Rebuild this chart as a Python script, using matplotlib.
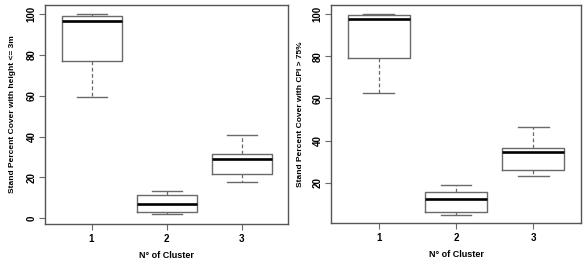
import matplotlib
matplotlib.use("Agg")
import matplotlib.pyplot as plt

# ------------------------------------------------------------
# Data
# ------------------------------------------------------------
clusters = [1, 2, 3]

# panel A: cover with height <= 3m
a_low = [59.2, 1.9, 17.8]
a_q1 = [77.0, 3.1, 21.7]
a_med = [96.6, 7.1, 29.0]
a_q3 = [99.2, 11.2, 31.5]
a_high = [100.0, 13.4, 40.6]

# panel B: cover with CPI > 75%
b_low = [62.4, 4.8, 23.3]
b_q1 = [79.1, 6.1, 26.0]
b_med = [97.5, 12.6, 34.8]
b_q3 = [99.5, 15.7, 36.7]
b_high = [100.0, 19.05, 46.6]

a_yticks = [0, 20, 40, 60, 80, 100]
b_yticks = [20, 40, 60, 80, 100]

plt.rcParams.update({
    "font.family": "Liberation Sans",
    "font.weight": "bold",
    "axes.linewidth": 1.0,
    "axes.edgecolor": "#555555",
})

edge = "#6a6a6a"


def box_panel(ax, low, q1, med, q3, high, yticks, ylim, ylabel, ypad):
    stats = []
    for lo, a, m, b, hi in zip(low, q1, med, q3, high):
        stats.append(dict(whislo=lo, q1=a, med=m, q3=b, whishi=hi, fliers=[]))
    ax.bxp(stats, positions=clusters, widths=0.8, showfliers=False,
           boxprops=dict(color=edge, linewidth=1.0),
           whiskerprops=dict(color=edge, linewidth=0.9, linestyle=(0, (3, 2))),
           capprops=dict(color=edge, linewidth=1.0),
           medianprops=dict(color="black", linewidth=1.9),
           capwidths=0.4)
    ax.set_xlim(0.38, 3.62)
    ax.set_ylim(*ylim)
    ax.set_xticks(clusters)
    ax.set_xticklabels([str(c) for c in clusters])
    ax.set_yticks(yticks)
    ax.set_yticklabels([str(t) for t in yticks], rotation=90, va="center")
    ax.tick_params(axis="both", length=4, width=0.8, color=edge,
                   labelsize=7, pad=3)
    ax.tick_params(axis="y", pad=2)
    ax.set_xlabel("N° of Cluster", fontsize=6.5, fontweight="bold", labelpad=5)
    ax.set_ylabel(ylabel, fontsize=6, fontweight="bold", labelpad=ypad)


fig = plt.figure(figsize=(5.86, 2.65), dpi=100)
ax1 = fig.add_axes([45 / 586, 1 - 224 / 265, 243 / 586, 219 / 265])
ax2 = fig.add_axes([331 / 586, 1 - 223 / 265, 250 / 586, 218 / 265])

box_panel(ax1, a_low, a_q1, a_med, a_q3, a_high, a_yticks, (-2.8, 104.4),
          "Stand Percent Cover with height <= 3m", 8)
box_panel(ax2, b_low, b_q1, b_med, b_q3, b_high, b_yticks, (1.0, 104.3),
          "Stand Percent Cover with CPI > 75%", 6)

fig.savefig("out.png", dpi=100)
